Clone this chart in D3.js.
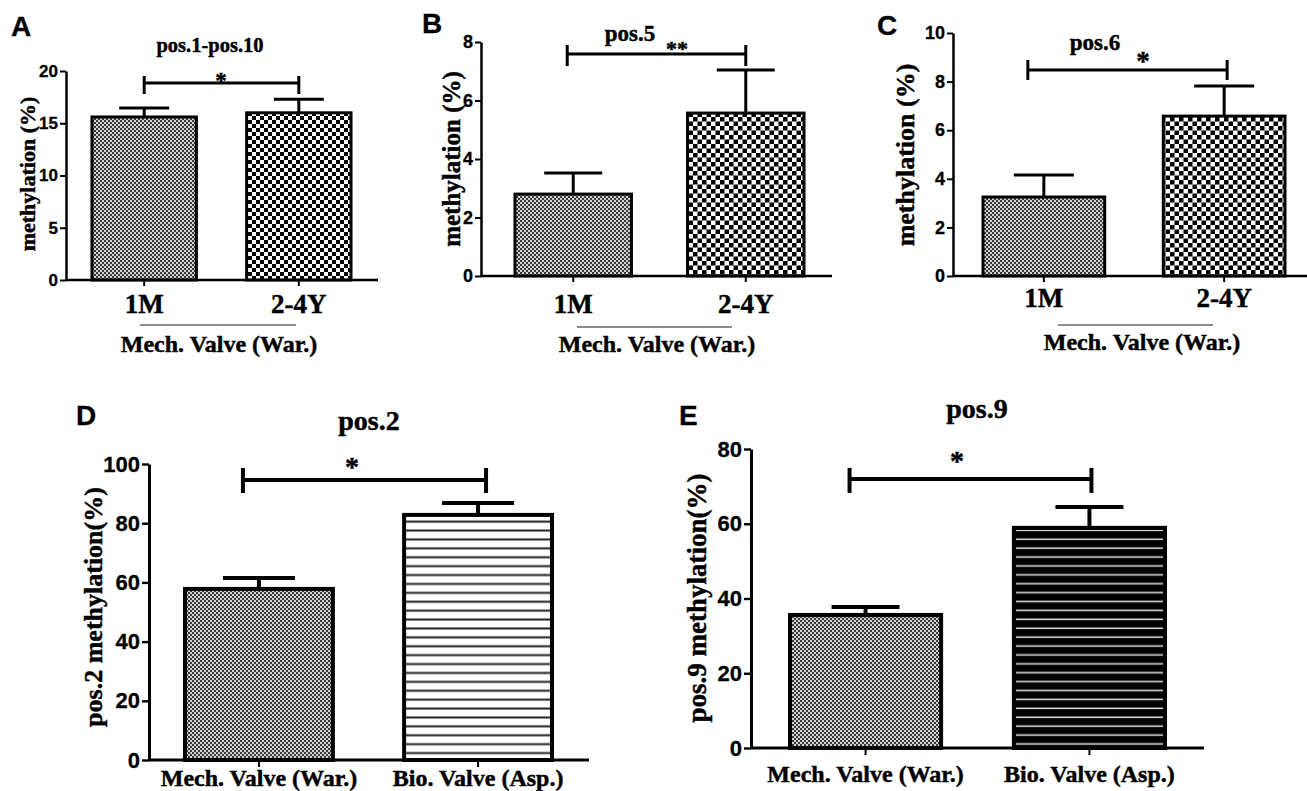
<!DOCTYPE html>
<html lang="en">
<head>
<meta charset="utf-8">
<title>Methylation panels</title>
<script src="https://cdn.jsdelivr.net/npm/d3@7"></script>
<style>
  body { margin: 0; background: #fff; }
  .serif { font-family: "Liberation Serif", "Times New Roman", serif; font-weight: bold; fill: #000; stroke: #000; stroke-width: 0.45px; }
  .sans { font-family: "Liberation Sans", Arial, sans-serif; font-weight: bold; fill: #000; stroke: #000; stroke-width: 0.3px; }
</style>
</head>
<body>
<script>
// ---- data ----
var timeGroups = ["1M", "2-4Y"];
var valveGroups = ["Mech. Valve (War.)", "Bio. Valve (Asp.)"];

var meanA = [15.6, 16.0], semA = [0.85, 1.3], ticksA = [0, 5, 10, 15, 20];
var meanB = [2.8, 5.57],  semB = [0.72, 1.47], ticksB = [0, 2, 4, 6, 8];
var meanC = [3.25, 6.58], semC = [0.91, 1.24], ticksC = [0, 2, 4, 6, 8, 10];
var meanD = [57.8, 82.8], semD = [3.7, 4.0],  ticksD = [0, 20, 40, 60, 80, 100];
var meanE = [35.6, 58.9], semE = [2.1, 5.6],  ticksE = [0, 20, 40, 60, 80];

var titles = ["pos.1-pos.10", "pos.5", "pos.6", "pos.2", "pos.9"];
var stars = ["*", "**", "*", "*", "*"];
var bracketLevel = [18.85, 7.59, 8.48, 94.6, 72];
var yLabels = ["methylation (%)", "methylation (%)", "methylation (%)",
               "pos.2 methylation(%)", "pos.9 methylation(%)"];
var groupLabel = "Mech. Valve (War.)";

var W = 1307, H = 791;
var svg = d3.select("body").append("svg").attr("width", W).attr("height", H);
var defs = svg.append("defs");

// fill patterns
function checker(id, cell, bg, fg) {
  var p = defs.append("pattern").attr("id", id)
    .attr("patternUnits", "userSpaceOnUse")
    .attr("width", cell * 2).attr("height", cell * 2);
  p.append("rect").attr("width", cell * 2).attr("height", cell * 2).attr("fill", bg);
  p.append("rect").attr("width", cell).attr("height", cell).attr("fill", fg);
  p.append("rect").attr("x", cell).attr("y", cell).attr("width", cell).attr("height", cell).attr("fill", fg);
}
function stripes(id, gap, bg, fg, lw) {
  var p = defs.append("pattern").attr("id", id)
    .attr("patternUnits", "userSpaceOnUse")
    .attr("width", 10).attr("height", gap);
  p.append("rect").attr("width", 10).attr("height", gap).attr("fill", bg);
  p.append("rect").attr("y", gap / 2).attr("width", 10).attr("height", lw).attr("fill", fg);
}
checker("fine", 2, "#d0d0d0", "#3a3a3a");
checker("coarseA", 4, "#fff", "#000");
checker("coarse", 4.5, "#fff", "#000");
stripes("linesWhite", 8.9, "#fff", "#222", 2);
stripes("linesBlack", 8.9, "#000", "#d8d8d8", 1.6);

var panels = [
  {letter: "A", lx: 11, ly: 36, cats: timeGroups, mean: meanA, sem: semA, ticks: ticksA, yMax: 20,
   fills: ["url(#fine)", "url(#coarseA)"],
   ax: 66, axEnd: 378, band: [92, 351], yr: [280, 71], tickFs: 17, tickLen: 6,
   labelX: 27, labelY: 174, labelFs: 22, titleX: 210, titleY: 52, titleFs: 20.5,
   catFs: 27, catY: 313, line: [140, 296, 325], groupX: 219, groupY: 352, groupFs: 24,
   starX: 221, starY: 77, starFs: 23, brDx: [0, 0], capUp: 7, capDown: 11, capW: 25, sw: 3, axW: 2.5},
  {letter: "B", lx: 422, ly: 33, cats: timeGroups, mean: meanB, sem: semB, ticks: ticksB, yMax: 8,
   fills: ["url(#fine)", "url(#coarse)"],
   ax: 481, axEnd: 832, band: [515, 804], yr: [276, 42], tickFs: 18, tickLen: 6,
   labelX: 451, labelY: 159, labelFs: 25, titleX: 630, titleY: 41, titleFs: 23,
   catFs: 27, catY: 313, line: [577, 732, 327], groupX: 657, groupY: 352, groupFs: 24,
   starX: 677, starY: 45, starFs: 22, brDx: [-6, 0], capUp: 9, capDown: 12, capW: 29, sw: 3, axW: 2.5},
  {letter: "C", lx: 877, ly: 35, cats: timeGroups, mean: meanC, sem: semC, ticks: ticksC, yMax: 10,
   fills: ["url(#fine)", "url(#coarse)"],
   ax: 953, axEnd: 1307, band: [983, 1285], yr: [276, 33], tickFs: 18, tickLen: 6,
   labelX: 905, labelY: 155, labelFs: 26, titleX: 1095, titleY: 50, titleFs: 23,
   catFs: 27, catY: 307, line: [1058, 1213, 325], groupX: 1142, groupY: 350, groupFs: 24,
   starX: 1143, starY: 57, starFs: 27, brDx: [-16, 3], capUp: 10, capDown: 10, capW: 30, sw: 3, axW: 2.5},
  {letter: "D", lx: 76, ly: 425, cats: valveGroups, mean: meanD, sem: semD, ticks: ticksD, yMax: 100,
   fills: ["url(#fine)", "url(#linesWhite)"],
   ax: 149, axEnd: 589, band: [185, 552], yr: [760, 464], tickFs: 22, tickLen: 7,
   labelX: 93, labelY: 607, labelFs: 26, titleX: 369, titleY: 430, titleFs: 28,
   catFs: 24, catY: 786, line: null,
   starX: 352, starY: 462, starFs: 28, brDx: [-16, 8], capUp: 12, capDown: 13, capW: 36, sw: 4, axW: 3},
  {letter: "E", lx: 679, ly: 425, cats: valveGroups, mean: meanE, sem: semE, ticks: ticksE, yMax: 80,
   fills: ["url(#fine)", "url(#linesBlack)"],
   ax: 751, axEnd: 1204, band: [790, 1165], yr: [748, 449], tickFs: 22, tickLen: 7,
   labelX: 697, labelY: 598, labelFs: 27, titleX: 977, titleY: 418, titleFs: 28,
   catFs: 24, catY: 782, line: null,
   starX: 957, starY: 456, starFs: 28, brDx: [-16, 2], capUp: 11, capDown: 14, capW: 34, sw: 4, axW: 3}
];

panels.forEach(function(p, i) {
  var g = svg.append("g");
  var x = d3.scaleBand().domain(p.cats).range(p.band).paddingInner(0.325).paddingOuter(0);
  var y = d3.scaleLinear().domain([0, p.yMax]).range(p.yr);
  var bw = x.bandwidth();
  var rows = p.cats.map(function(c, k) { return {cat: c, mean: p.mean[k], sem: p.sem[k], fill: p.fills[k]}; });

  // bars
  g.selectAll("rect.bar").data(rows).enter().append("rect")
    .attr("class", "bar")
    .attr("x", function(d) { return x(d.cat); })
    .attr("y", function(d) { return y(d.mean); })
    .attr("width", bw)
    .attr("height", function(d) { return y(0) - y(d.mean); })
    .attr("fill", function(d) { return d.fill; })
    .attr("stroke", "#000").attr("stroke-width", p.sw);

  // error bars (upper only)
  var eb = g.selectAll("g.err").data(rows).enter().append("g").attr("class", "err")
    .attr("stroke", "#000").attr("stroke-width", p.sw);
  eb.append("line")
    .attr("x1", function(d) { return x(d.cat) + bw / 2; })
    .attr("x2", function(d) { return x(d.cat) + bw / 2; })
    .attr("y1", function(d) { return y(d.mean); })
    .attr("y2", function(d) { return y(d.mean + d.sem); });
  eb.append("line")
    .attr("x1", function(d) { return x(d.cat) + bw / 2 - p.capW; })
    .attr("x2", function(d) { return x(d.cat) + bw / 2 + p.capW; })
    .attr("y1", function(d) { return y(d.mean + d.sem); })
    .attr("y2", function(d) { return y(d.mean + d.sem); });

  // y axis
  var ya = g.append("g").attr("transform", "translate(" + p.ax + ",0)")
    .call(d3.axisLeft(y).tickValues(p.ticks).tickSize(p.tickLen).tickSizeOuter(0).tickPadding(2));
  ya.select(".domain").attr("stroke", "#000").attr("stroke-width", p.axW);
  ya.selectAll(".tick line").attr("stroke", "#000").attr("stroke-width", p.axW * 0.8);
  ya.selectAll(".tick text").attr("class", "sans").attr("font-size", p.tickFs).attr("fill", "#000");

  // x axis
  g.append("line").attr("x1", p.ax).attr("x2", p.axEnd)
    .attr("y1", y(0)).attr("y2", y(0))
    .attr("stroke", "#000").attr("stroke-width", p.axW);
  var pad = p.catY - 0.71 * p.catFs - y(0) - p.tickLen;
  var xa = g.append("g").attr("transform", "translate(0," + y(0) + ")")
    .call(d3.axisBottom(x).tickSize(p.tickLen).tickSizeOuter(0).tickPadding(pad));
  xa.select(".domain").remove();
  xa.selectAll(".tick line").attr("stroke", "#000").attr("stroke-width", 2);
  xa.selectAll(".tick text").attr("class", "serif").attr("font-size", p.catFs).attr("fill", "#000");

  // group underline + label
  if (p.line) {
    g.append("line").attr("x1", p.line[0]).attr("x2", p.line[1])
      .attr("y1", p.line[2]).attr("y2", p.line[2])
      .attr("stroke", "#666").attr("stroke-width", 1.5);
    g.append("text").attr("class", "serif").attr("x", p.groupX).attr("y", p.groupY)
      .attr("text-anchor", "middle").attr("font-size", p.groupFs).text(groupLabel);
  }

  // y label
  g.append("text").attr("class", "serif")
    .attr("transform", "translate(" + p.labelX + "," + p.labelY + ") rotate(-90)")
    .attr("text-anchor", "middle").attr("dominant-baseline", "central")
    .attr("font-size", p.labelFs).text(yLabels[i]);

  // title
  g.append("text").attr("class", "serif").attr("x", p.titleX).attr("y", p.titleY)
    .attr("text-anchor", "middle").attr("font-size", p.titleFs).text(titles[i]);

  // significance bracket
  var bx1 = x(p.cats[0]) + bw / 2 + p.brDx[0];
  var bx2 = x(p.cats[1]) + bw / 2 + p.brDx[1];
  var by = y(bracketLevel[i]);
  var br = g.append("g").attr("stroke", "#000").attr("stroke-width", p.sw);
  br.append("line").attr("x1", bx1).attr("x2", bx2).attr("y1", by).attr("y2", by);
  [bx1, bx2].forEach(function(bx) {
    br.append("line").attr("x1", bx).attr("x2", bx).attr("y1", by - p.capUp).attr("y2", by + p.capDown);
  });
  g.append("text").attr("class", "serif").attr("x", p.starX).attr("y", p.starY + 0.49 * p.starFs)
    .attr("text-anchor", "middle").attr("font-size", p.starFs).text(stars[i]);

  // panel letter
  g.append("text").attr("class", "sans").attr("x", p.lx).attr("y", p.ly)
    .attr("font-size", 28).text(p.letter);
});
</script>
</body>
</html>
